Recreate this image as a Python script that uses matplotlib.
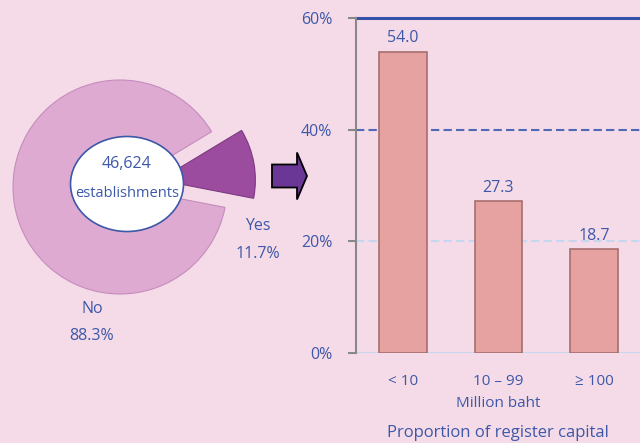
import numpy as np
import matplotlib.pyplot as plt
from matplotlib.patches import Ellipse, FancyArrow

plt.rcParams['font.family'] = ['Open Sans', 'DejaVu Sans']

# pie data
pieLabels = ['Yes', 'No']
pieShares = [11.7, 88.3]
totalEst = '46,624'

# bar data
capCategories = ['< 10', '10 \u2013 99', '\u2265 100']
capShares = [54.0, 27.3, 18.7]
yTicks = [0, 20, 40, 60]
yTickLabels = ['0%', '20%', '40%', '60%']

bg = '#f5dbe8'
txt = '#3d58a8'

fig = plt.figure(figsize=(6.4, 4.43), dpi=100)
fig.patch.set_facecolor(bg)

# ---- pie on the left, axes in pixel units
W = 340
axp = fig.add_axes([0, 0, W / 640, 1])

# explode is in data units here (pixels)
wedges, _ = axp.pie(pieShares, colors=['#9c4c9f', '#deaad2'], explode=[40, 0],
                    startangle=-11, counterclock=True, center=(120, 256), radius=107,
                    wedgeprops=dict(edgecolor='#c58cbd', linewidth=0.8))
wedges[0].set_edgecolor('#7d3a82')
wedges[0].set_radius(96)
axp.set_xlim(0, W)
axp.set_ylim(0, 443)
axp.set_aspect('equal')
axp.axis('off')

axp.add_patch(Ellipse((127, 259), 113, 95, facecolor='white', edgecolor=txt, lw=1.2, zorder=5))
axp.text(127, 279, totalEst, ha='center', va='center', color=txt, fontsize=11.5, zorder=6)
axp.text(127, 250, 'establishments', ha='center', va='center', color=txt, fontsize=10.5, zorder=6)

axp.text(258, 217, pieLabels[0], ha='center', va='center', color=txt, fontsize=11.5)
axp.text(258, 189, '%.1f%%' % pieShares[0], ha='center', va='center', color=txt, fontsize=11.5)
axp.text(92, 134, pieLabels[1], ha='center', va='center', color=txt, fontsize=11.5)
axp.text(92, 107, '%.1f%%' % pieShares[1], ha='center', va='center', color=txt, fontsize=11.5)

axp.add_patch(FancyArrow(272, 267, 25, 0, width=23, head_width=47, head_length=10,
                         length_includes_head=False, facecolor='#6b3797',
                         edgecolor='black', lw=1.3))

# ---- bar chart on the right
ax = fig.add_axes([356 / 640, 90 / 443, 284 / 640, 335 / 443])
ax.set_facecolor(bg)
x = np.arange(len(capCategories))
bars = ax.bar(x, capShares, width=0.5, color='#e6a1a1', edgecolor='#a86e6e', linewidth=1.2, zorder=3)
for b, v in zip(bars, capShares):
    ax.text(b.get_x() + b.get_width() / 2, v + 0.9, '%.1f' % v, ha='center', va='bottom',
            color=txt, fontsize=11.5)

ax.set_xlim(-0.49, 2.48)
ax.set_ylim(0, 60)
ax.set_yticks(yTicks)
ax.set_yticklabels(yTickLabels, color=txt, fontsize=11.5)
ax.set_xticks(x)
ax.set_xticklabels(capCategories, color=txt, fontsize=11)
ax.tick_params(axis='x', length=0, pad=15)
ax.tick_params(axis='y', length=6, color='#888888', width=1.5, pad=11)
ax.set_xlabel('Million baht', color=txt, fontsize=11, labelpad=5)

for s in ['top', 'right', 'bottom']:
    ax.spines[s].set_visible(False)
ax.spines['left'].set_color('#888888')
ax.spines['left'].set_linewidth(1.5)

ax.axhline(0, color='#c6d6ee', lw=1.5, zorder=2)
ax.axhline(20, color='#c6d6ee', lw=1.5, ls=(0, (4, 2)), zorder=2)
ax.axhline(40, color='#5069b6', lw=1.5, ls=(0, (4, 2)), zorder=2)
ax.axhline(60, color='#3552a8', lw=2.2, zorder=2, clip_on=False)

fig.text(498 / 640, 1 - 433 / 443, 'Proportion of register capital', ha='center', va='center',
         color=txt, fontsize=12)

fig.savefig('out.png', dpi=100, facecolor=bg)
